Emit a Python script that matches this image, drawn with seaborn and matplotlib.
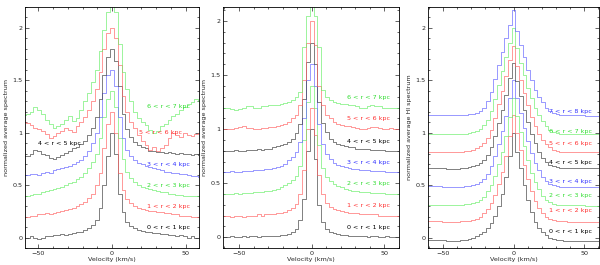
import numpy as np
import pandas as pd
import matplotlib
matplotlib.use("Agg")
import matplotlib.pyplot as plt
import seaborn as sns
from matplotlib.ticker import MultipleLocator

# velocity channels (km/s)
velocity = np.round(np.arange(-24, 25) * 2.6, 1)

# ---------------- panel 1 ----------------
p1_r01 = [0.00, 0.00, 0.00, 0.01, 0.00, -0.01, 0.00,
          0.01, 0.01, 0.02, 0.02, 0.03, 0.02, 0.03,
          0.04, 0.05, 0.05, 0.07, 0.09, 0.12, 0.17,
          0.28, 0.50, 0.78, 1.00, 0.80, 0.42, 0.24,
          0.15, 0.11, 0.09, 0.07, 0.06, 0.05, 0.05,
          0.04, 0.04, 0.03, 0.03, 0.02, 0.02, 0.01,
          0.02, 0.01, 0.00, 0.01, 0.00, 0.00, 0.00]
p1_r12 = [0.20, 0.20, 0.20, 0.21, 0.21, 0.22, 0.22,
          0.23, 0.22, 0.23, 0.24, 0.25, 0.26, 0.27,
          0.28, 0.30, 0.32, 0.34, 0.38, 0.42, 0.50,
          0.62, 0.85, 1.08, 1.20, 1.00, 0.62, 0.45,
          0.37, 0.33, 0.30, 0.28, 0.27, 0.26, 0.25,
          0.25, 0.24, 0.24, 0.23, 0.23, 0.22, 0.22,
          0.21, 0.21, 0.21, 0.20, 0.20, 0.20, 0.20]
p1_r23 = [0.40, 0.40, 0.40, 0.41, 0.42, 0.42, 0.43,
          0.44, 0.45, 0.46, 0.47, 0.48, 0.50, 0.52,
          0.53, 0.56, 0.58, 0.62, 0.66, 0.72, 0.80,
          0.95, 1.15, 1.32, 1.40, 1.25, 0.95, 0.75,
          0.63, 0.57, 0.53, 0.50, 0.48, 0.47, 0.46,
          0.45, 0.44, 0.43, 0.43, 0.42, 0.42, 0.41,
          0.41, 0.40, 0.40, 0.40, 0.40, 0.40, 0.40]
p1_r34 = [0.60, 0.60, 0.60, 0.61, 0.61, 0.60, 0.62,
          0.63, 0.62, 0.64, 0.65, 0.66, 0.67, 0.68,
          0.70, 0.72, 0.74, 0.78, 0.83, 0.90, 1.00,
          1.15, 1.38, 1.55, 1.60, 1.45, 1.15, 0.95,
          0.84, 0.78, 0.74, 0.71, 0.70, 0.68, 0.67,
          0.66, 0.65, 0.64, 0.63, 0.63, 0.62, 0.62,
          0.61, 0.61, 0.60, 0.59, 0.59, 0.58, 0.58]
p1_r45 = [0.78, 0.78, 0.78, 0.80, 0.84, 0.83, 0.80,
          0.79, 0.76, 0.75, 0.77, 0.79, 0.81, 0.83,
          0.85, 0.86, 0.89, 0.92, 0.98, 1.05, 1.15,
          1.32, 1.55, 1.72, 1.80, 1.68, 1.45, 1.18,
          1.04, 0.96, 0.91, 0.88, 0.86, 0.85, 0.83,
          0.83, 0.82, 0.82, 0.81, 0.82, 0.81, 0.80,
          0.81, 0.80, 0.80, 0.79, 0.80, 0.79, 0.79]
p1_r56 = [1.10, 1.10, 1.09, 1.07, 1.05, 1.04, 1.02,
          0.99, 0.95, 0.97, 1.00, 1.02, 1.05, 1.03,
          1.01, 1.06, 1.10, 1.15, 1.22, 1.30, 1.42,
          1.58, 1.80, 1.95, 2.00, 1.90, 1.65, 1.35,
          1.20, 1.10, 1.05, 0.98, 0.92, 0.88, 0.84,
          0.86, 0.83, 0.85, 0.88, 0.95, 1.00, 0.98,
          0.96, 1.00, 0.98, 0.97, 0.99, 1.00, 1.00]
p1_r67 = [1.17, 1.17, 1.18, 1.20, 1.25, 1.22, 1.18,
          1.12, 1.08, 1.05, 1.06, 1.08, 1.12, 1.16,
          1.11, 1.14, 1.22, 1.30, 1.38, 1.48, 1.60,
          1.78, 1.98, 2.15, 2.30, 2.15, 1.85, 1.58,
          1.42, 1.30, 1.20, 1.14, 1.10, 1.07, 1.03,
          1.00, 1.02, 1.06, 1.08, 1.12, 1.16, 1.18,
          1.22, 1.25, 1.27, 1.29, 1.32, 1.30, 1.30]

# ---------------- panel 2 ----------------
p2_r01 = [0.00, 0.00, 0.00, 0.01, 0.00, 0.00, 0.01,
          0.00, 0.01, 0.01, 0.00, 0.01, 0.01, 0.01,
          0.01, 0.01, 0.02, 0.02, 0.03, 0.05, 0.08,
          0.16, 0.35, 0.80, 1.00, 0.72, 0.30, 0.14,
          0.08, 0.05, 0.04, 0.03, 0.02, 0.02, 0.01,
          0.01, 0.01, 0.01, 0.01, 0.00, 0.01, 0.01,
          0.00, 0.00, 0.01, 0.00, 0.00, 0.00, 0.00]
p2_r12 = [0.20, 0.20, 0.20, 0.19, 0.20, 0.20, 0.19,
          0.20, 0.20, 0.20, 0.21, 0.20, 0.21, 0.21,
          0.21, 0.22, 0.22, 0.23, 0.25, 0.27, 0.31,
          0.40, 0.62, 1.00, 1.20, 0.95, 0.58, 0.40,
          0.32, 0.28, 0.26, 0.25, 0.24, 0.23, 0.22,
          0.22, 0.22, 0.21, 0.21, 0.21, 0.21, 0.21,
          0.20, 0.20, 0.20, 0.20, 0.20, 0.20, 0.20]
p2_r23 = [0.40, 0.40, 0.40, 0.40, 0.41, 0.40, 0.41,
          0.41, 0.41, 0.42, 0.42, 0.42, 0.43, 0.43,
          0.44, 0.45, 0.46, 0.48, 0.50, 0.53, 0.57,
          0.66, 0.90, 1.25, 1.40, 1.20, 0.85, 0.64,
          0.56, 0.52, 0.49, 0.47, 0.46, 0.45, 0.44,
          0.43, 0.43, 0.42, 0.42, 0.42, 0.41, 0.41,
          0.41, 0.41, 0.40, 0.40, 0.40, 0.40, 0.40]
p2_r34 = [0.60, 0.60, 0.60, 0.61, 0.60, 0.60, 0.61,
          0.61, 0.61, 0.62, 0.62, 0.62, 0.63, 0.63,
          0.64, 0.65, 0.66, 0.68, 0.71, 0.74, 0.79,
          0.88, 1.10, 1.45, 1.60, 1.40, 1.05, 0.86,
          0.77, 0.72, 0.69, 0.67, 0.66, 0.65, 0.64,
          0.63, 0.63, 0.62, 0.62, 0.62, 0.61, 0.61,
          0.61, 0.61, 0.60, 0.60, 0.60, 0.60, 0.60]
p2_r45 = [0.80, 0.80, 0.80, 0.80, 0.81, 0.80, 0.80,
          0.81, 0.81, 0.81, 0.82, 0.81, 0.82, 0.82,
          0.83, 0.84, 0.85, 0.86, 0.88, 0.91, 0.96,
          1.05, 1.28, 1.62, 1.80, 1.60, 1.25, 1.06,
          0.97, 0.91, 0.88, 0.86, 0.85, 0.84, 0.83,
          0.83, 0.82, 0.82, 0.82, 0.82, 0.81, 0.81,
          0.81, 0.81, 0.80, 0.80, 0.80, 0.80, 0.80]
p2_r56 = [1.00, 1.00, 1.00, 1.00, 1.01, 1.02, 1.03,
          1.01, 1.01, 1.00, 1.00, 1.01, 1.01, 1.02,
          1.02, 1.03, 1.04, 1.05, 1.07, 1.10, 1.13,
          1.22, 1.45, 1.80, 2.00, 1.78, 1.40, 1.22,
          1.13, 1.10, 1.07, 1.05, 1.04, 1.03, 1.03,
          1.02, 1.01, 1.00, 1.00, 1.01, 1.02, 1.02,
          1.01, 1.00, 1.00, 1.01, 1.00, 1.00, 1.00]
p2_r67 = [1.20, 1.20, 1.20, 1.19, 1.18, 1.19, 1.20,
          1.21, 1.21, 1.20, 1.20, 1.21, 1.21, 1.22,
          1.22, 1.22, 1.23, 1.24, 1.25, 1.27, 1.30,
          1.34, 1.76, 2.05, 2.30, 2.05, 1.76, 1.36,
          1.30, 1.27, 1.25, 1.24, 1.23, 1.23, 1.22,
          1.22, 1.21, 1.20, 1.20, 1.21, 1.22, 1.21,
          1.21, 1.20, 1.20, 1.20, 1.20, 1.20, 1.20]

# ---------------- panel 3 (HI) ----------------
p3_r01 = [-0.02, -0.02, -0.02, -0.02, -0.02, -0.02, -0.03,
          -0.03, -0.03, -0.03, -0.02, -0.02, -0.01, 0.00,
          0.01, 0.03, 0.05, 0.09, 0.14, 0.21, 0.30,
          0.42, 0.58, 0.78, 1.00, 0.82, 0.66, 0.50,
          0.36, 0.24, 0.15, 0.09, 0.05, 0.02, 0.00,
          -0.01, -0.02, -0.02, -0.03, -0.03, -0.03, -0.03,
          -0.03, -0.03, -0.03, -0.03, -0.03, -0.03, -0.03]
p3_r12 = [0.16, 0.16, 0.16, 0.16, 0.16, 0.15, 0.15,
          0.15, 0.15, 0.15, 0.16, 0.16, 0.16, 0.17,
          0.18, 0.20, 0.23, 0.27, 0.33, 0.41, 0.51,
          0.63, 0.78, 0.97, 1.17, 1.00, 0.84, 0.69,
          0.56, 0.44, 0.35, 0.28, 0.23, 0.20, 0.18,
          0.17, 0.16, 0.16, 0.16, 0.15, 0.15, 0.15,
          0.15, 0.15, 0.15, 0.15, 0.15, 0.15, 0.15]
p3_r23 = [0.31, 0.31, 0.31, 0.31, 0.31, 0.31, 0.31,
          0.31, 0.31, 0.31, 0.31, 0.32, 0.32, 0.33,
          0.34, 0.36, 0.39, 0.44, 0.50, 0.59, 0.70,
          0.82, 0.97, 1.15, 1.33, 1.16, 1.01, 0.87,
          0.74, 0.62, 0.53, 0.46, 0.40, 0.36, 0.34,
          0.32, 0.31, 0.31, 0.31, 0.31, 0.31, 0.31,
          0.31, 0.31, 0.30, 0.30, 0.30, 0.30, 0.30]
p3_r34 = [0.49, 0.49, 0.49, 0.49, 0.49, 0.48, 0.48,
          0.48, 0.48, 0.48, 0.48, 0.49, 0.49, 0.50,
          0.51, 0.53, 0.56, 0.61, 0.68, 0.78, 0.89,
          1.02, 1.16, 1.33, 1.50, 1.33, 1.19, 1.05,
          0.92, 0.81, 0.71, 0.64, 0.58, 0.54, 0.51,
          0.50, 0.49, 0.48, 0.48, 0.48, 0.48, 0.48,
          0.48, 0.48, 0.48, 0.48, 0.48, 0.48, 0.48]
p3_r45 = [0.66, 0.66, 0.66, 0.66, 0.66, 0.66, 0.65,
          0.65, 0.65, 0.65, 0.66, 0.66, 0.67, 0.68,
          0.69, 0.71, 0.74, 0.79, 0.86, 0.97, 1.09,
          1.22, 1.36, 1.52, 1.67, 1.49, 1.35, 1.22,
          1.10, 0.99, 0.90, 0.82, 0.76, 0.72, 0.69,
          0.68, 0.67, 0.66, 0.66, 0.66, 0.66, 0.66,
          0.66, 0.66, 0.66, 0.66, 0.66, 0.66, 0.66]
p3_r56 = [0.82, 0.82, 0.82, 0.82, 0.82, 0.82, 0.82,
          0.82, 0.82, 0.82, 0.82, 0.83, 0.83, 0.84,
          0.85, 0.87, 0.90, 0.95, 1.03, 1.14, 1.27,
          1.40, 1.54, 1.69, 1.83, 1.64, 1.50, 1.38,
          1.26, 1.15, 1.06, 0.99, 0.93, 0.89, 0.86,
          0.84, 0.83, 0.82, 0.82, 0.82, 0.82, 0.82,
          0.82, 0.82, 0.82, 0.82, 0.82, 0.82, 0.82]
p3_r67 = [0.99, 0.99, 0.99, 0.99, 0.99, 0.99, 0.99,
          0.99, 0.99, 0.99, 0.99, 0.99, 1.00, 1.01,
          1.02, 1.04, 1.07, 1.12, 1.21, 1.32, 1.46,
          1.59, 1.72, 1.86, 2.00, 1.81, 1.67, 1.55,
          1.43, 1.33, 1.24, 1.17, 1.11, 1.06, 1.03,
          1.01, 1.00, 0.99, 0.99, 0.99, 0.99, 0.99,
          0.99, 0.99, 0.99, 0.99, 0.99, 0.99, 0.99]
p3_r78 = [1.17, 1.17, 1.17, 1.17, 1.17, 1.17, 1.17,
          1.17, 1.17, 1.17, 1.17, 1.17, 1.18, 1.18,
          1.19, 1.21, 1.24, 1.30, 1.39, 1.51, 1.65,
          1.77, 1.90, 2.03, 2.17, 1.97, 1.84, 1.72,
          1.60, 1.50, 1.41, 1.34, 1.29, 1.24, 1.21,
          1.19, 1.18, 1.17, 1.17, 1.17, 1.17, 1.17,
          1.17, 1.17, 1.16, 1.16, 1.16, 1.16, 1.16]

labels = ["0 < r < 1 kpc", "1 < r < 2 kpc", "2 < r < 3 kpc", "3 < r < 4 kpc",
          "4 < r < 5 kpc", "5 < r < 6 kpc", "6 < r < 7 kpc", "7 < r < 8 kpc"]
line_colors = ["#3a3a3a", "#ff6060", "#66ee66", "#6060ff",
               "#3a3a3a", "#ff6060", "#66ee66", "#6060ff"]
text_colors = ["black", "#ff3030", "#30dd30", "#3030ff",
               "black", "#ff3030", "#30dd30", "#3030ff"]

panels = [
    dict(series=[p1_r01, p1_r12, p1_r23, p1_r34, p1_r45, p1_r56, p1_r67],
         rect=[25/600, 17/265, 174/600, 241/265], xlim=(-59, 59), ylim=(-0.1, 2.2),
         ylabel="normalized average spectrum",
         lab_x=[24, 24, 24, 24, -50, 18, 24],
         lab_y=[0.10, 0.30, 0.50, 0.70, 0.90, 1.00, 1.25]),
    dict(series=[p2_r01, p2_r12, p2_r23, p2_r34, p2_r45, p2_r56, p2_r67],
         rect=[223/600, 17/265, 176/600, 241/265], xlim=(-61, 60), ylim=(-0.1, 2.13),
         ylabel="normalized average spectrum",
         lab_x=[24] * 7,
         lab_y=[0.09, 0.29, 0.50, 0.69, 0.89, 1.10, 1.29]),
    dict(series=[p3_r01, p3_r12, p3_r23, p3_r34, p3_r45, p3_r56, p3_r67, p3_r78],
         rect=[428/600, 17/265, 171/600, 241/265], xlim=(-60.5, 60.5), ylim=(-0.1, 2.2),
         ylabel="normalized average HI spectrum",
         lab_x=[25] * 8,
         lab_y=[0.06, 0.26, 0.40, 0.53, 0.72, 0.90, 1.01, 1.20]),
]

sns.set_style("ticks")
plt.rcParams["font.family"] = ["DejaVu Sans"]
fs = 4.6

fig = plt.figure(figsize=(6.0, 2.65), dpi=100)
for p in panels:
    ax = fig.add_axes(p["rect"])
    n = len(p["series"])
    df = pd.concat([pd.DataFrame({"v": velocity, "val": s, "ring": labels[i]})
                    for i, s in enumerate(p["series"])], ignore_index=True)
    pal = {labels[i]: line_colors[i] for i in range(n)}
    sns.lineplot(data=df, x="v", y="val", hue="ring", palette=pal, estimator=None,
                 drawstyle="steps-mid", linewidth=0.45, legend=False, ax=ax)
    for i in range(n):
        ax.text(p["lab_x"][i], p["lab_y"][i], labels[i], color=text_colors[i],
                fontsize=fs, ha="left", va="center")
    ax.set_xlim(*p["xlim"])
    ax.set_ylim(*p["ylim"])
    ax.xaxis.set_major_locator(MultipleLocator(50))
    ax.xaxis.set_minor_locator(MultipleLocator(10))
    ax.yaxis.set_major_locator(MultipleLocator(0.5))
    ax.yaxis.set_minor_locator(MultipleLocator(0.1))
    ax.set_yticks([0, 0.5, 1, 1.5, 2])
    ax.set_yticklabels(["0", "0.5", "1", "1.5", "2"])
    ax.tick_params(which="both", direction="in", top=True, right=True,
                   labelsize=fs, width=0.5, pad=2)
    ax.tick_params(which="major", length=3)
    ax.tick_params(which="minor", length=1.5)
    for sp in ax.spines.values():
        sp.set_linewidth(0.6)
        sp.set_color("black")
    ax.set_xlabel("Velocity (km/s)", fontsize=fs, labelpad=1)
    ax.set_ylabel(p["ylabel"], fontsize=fs, labelpad=2)

fig.savefig("out.png", dpi=100)
